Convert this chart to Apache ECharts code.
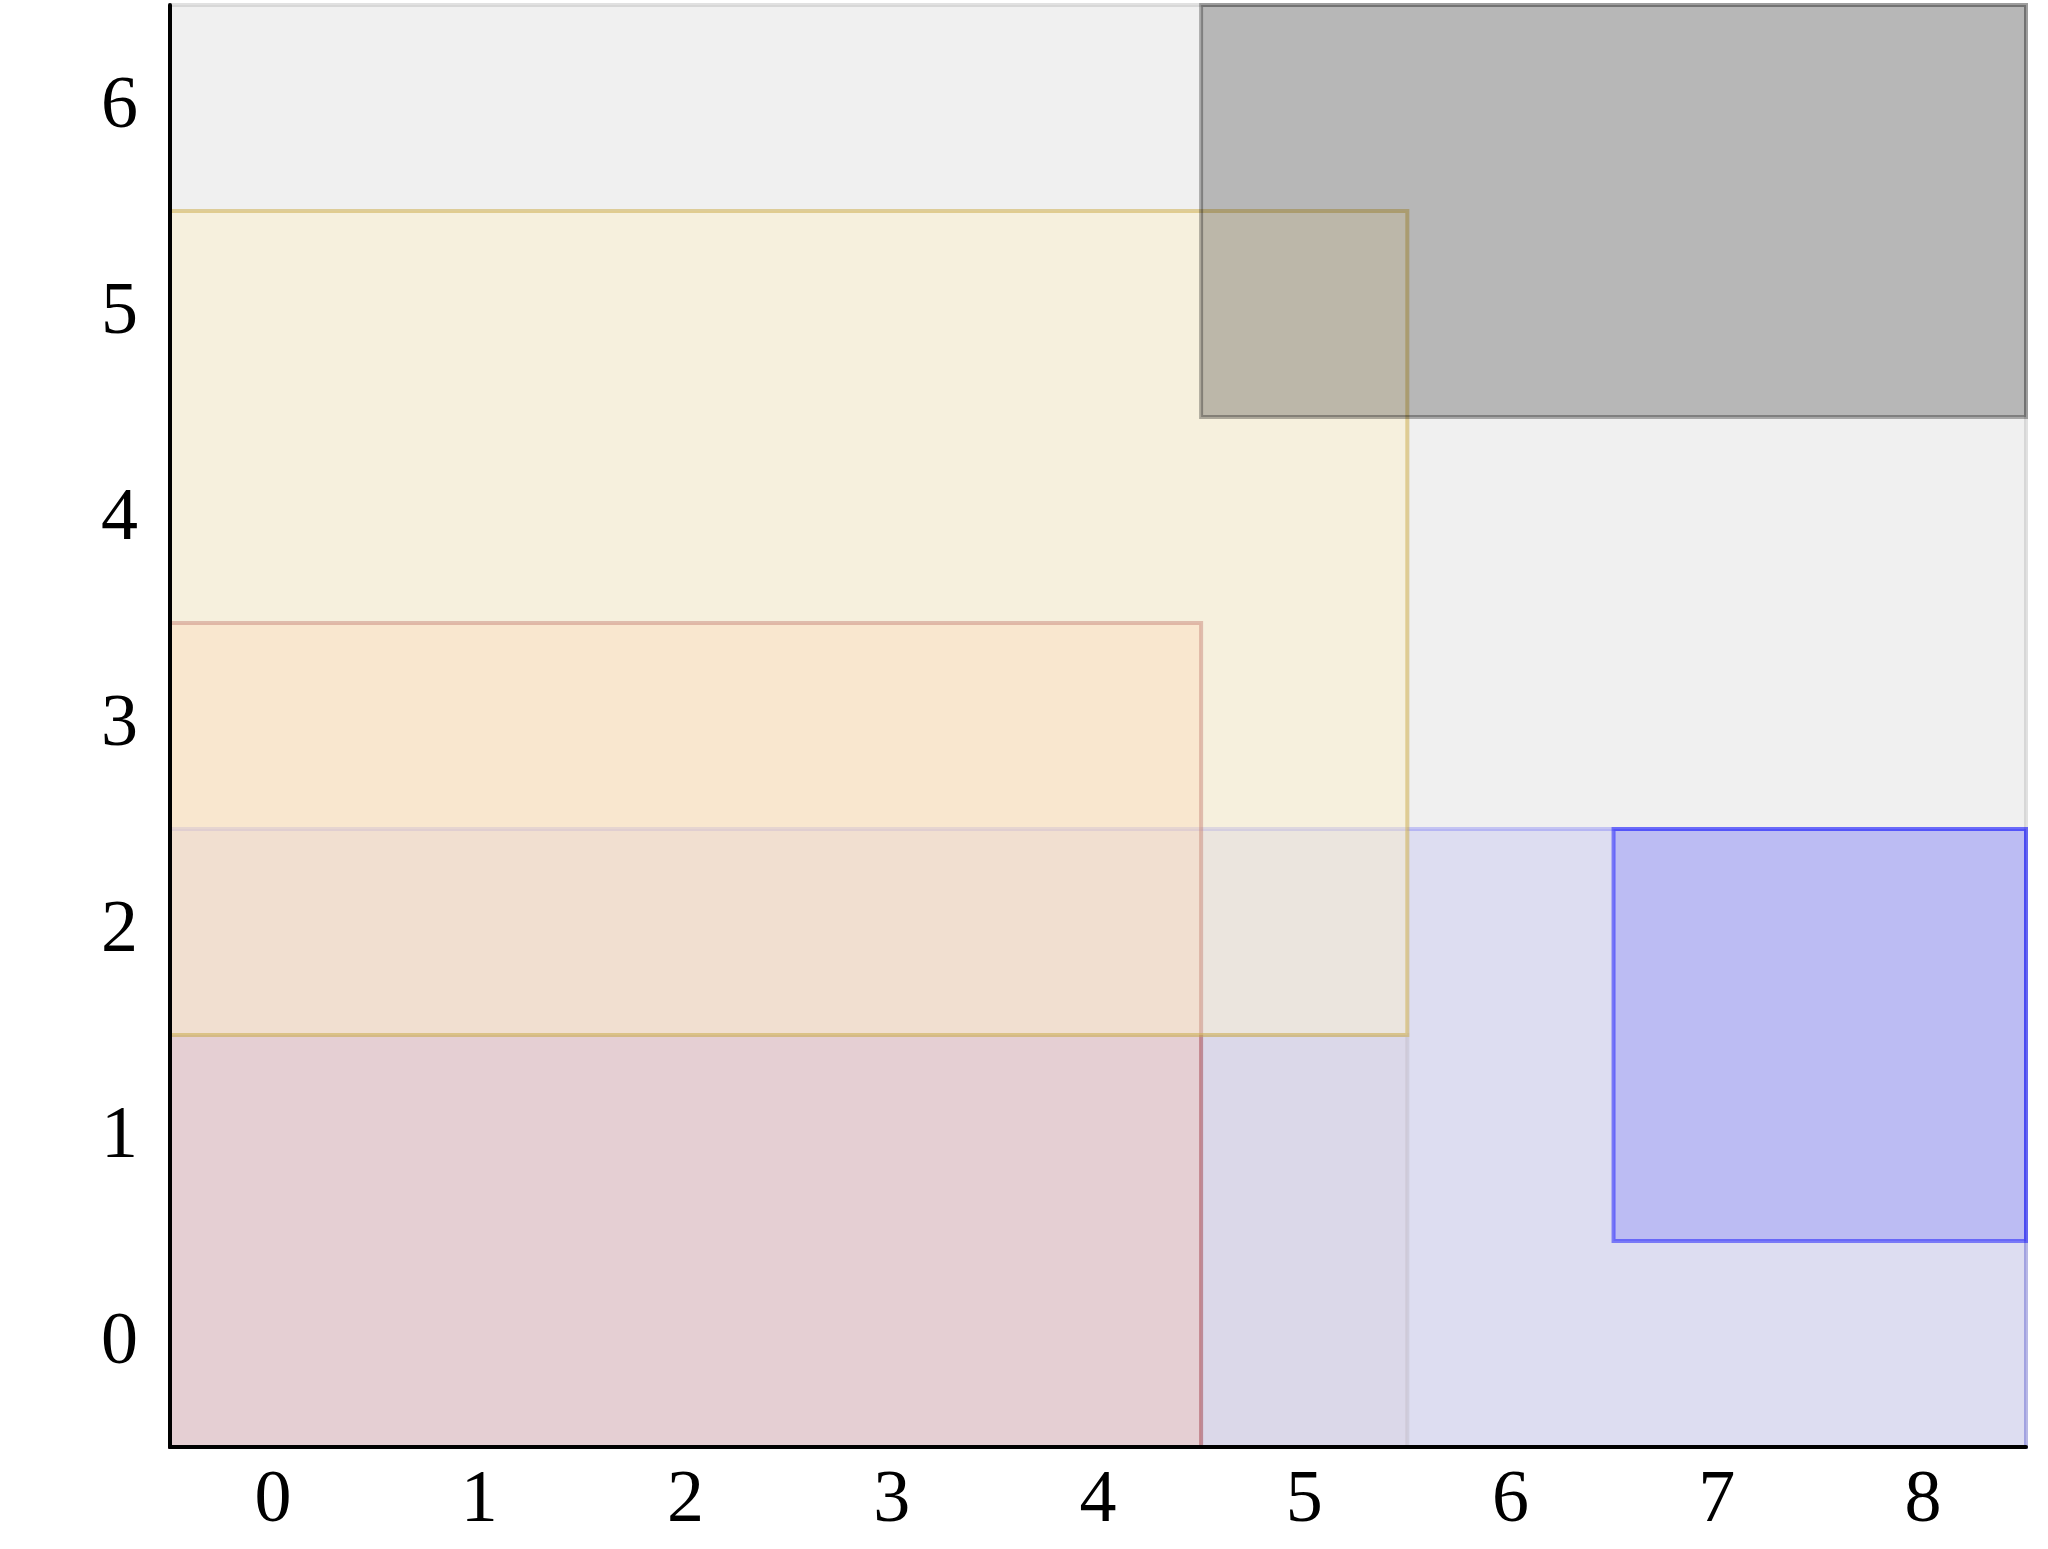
<!DOCTYPE html>
<html>
<head>
<meta charset="utf-8">
<script src="https://cdn.jsdelivr.net/npm/echarts@6/dist/echarts.min.js"></script>
<style>
html,body{margin:0;padding:0;background:#fff;}
#chart{width:2048px;height:1549px;}
</style>
</head>
<body>
<div id="chart"></div>
<script>
// Category ticks
const xCategories = ['0','1','2','3','4','5','6','7','8'];
const yCategories = ['0','1','2','3','4','5','6'];

// Rectangles (inclusive category index ranges), in drawing order
const rectNames  = ['background','blueWide','faint','red','yellow','grey','blueSmall'];
const rectXStart = [0, 0, 0, 0, 0, 5, 7];
const rectXEnd   = [8, 8, 5, 4, 5, 8, 8];
const rectYStart = [0, 0, 0, 0, 2, 5, 1];
const rectYEnd   = [6, 2, 1, 3, 5, 6, 2];

// Styles per rectangle (fill, stroke)
const rectFill = [
  '#f0f0f0',
  'rgba(0,0,255,0.08)',
  'rgba(200,170,140,0.08)',
  'rgba(255,185,160,0.29)',
  'rgba(255,240,195,0.42)',
  'rgba(0,0,0,0.235)',
  'rgba(0,0,255,0.15)'
];
const rectStroke = [
  'rgba(170,170,170,0.35)',
  'rgba(0,0,255,0.18)',
  'rgba(150,140,140,0.18)',
  'rgba(160,60,70,0.5)',
  'rgba(205,175,80,0.55)',
  'rgba(0,0,0,0.3)',
  'rgba(0,0,255,0.45)'
];

const data = rectNames.map((n, i) => [rectXStart[i], rectXEnd[i], rectYStart[i], rectYEnd[i], i]);

const chart = echarts.init(document.getElementById('chart'), null, {renderer: 'canvas'});
const labelFont = {
  fontFamily: '"Liberation Serif", "DejaVu Serif", serif',
  fontSize: 74,
  color: '#000'
};
chart.setOption({
  animation: false,
  backgroundColor: '#fff',
  grid: {left: 170, right: 22, top: 5, bottom: 102, containLabel: false},
  xAxis: {
    type: 'category',
    data: xCategories,
    boundaryGap: true,
    axisLine: {show: true, onZero: false, lineStyle: {color: '#000', width: 4}},
    axisTick: {show: false},
    splitLine: {show: false},
    axisLabel: Object.assign({margin: 18}, labelFont),
    z: 10
  },
  yAxis: {
    type: 'category',
    data: yCategories,
    boundaryGap: true,
    axisLine: {show: true, onZero: false, lineStyle: {color: '#000', width: 4}},
    axisTick: {show: false},
    splitLine: {show: false},
    axisLabel: Object.assign({margin: 32}, labelFont),
    z: 10
  },
  series: [{
    type: 'custom',
    clip: false,
    data: data,
    encode: {x: [0, 1], y: [2, 3]},
    renderItem: function (params, api) {
      const x0 = api.value(0), x1 = api.value(1), y0 = api.value(2), y1 = api.value(3);
      const idx = api.value(4);
      const size = api.size([1, 1]);
      const pA = api.coord([x0, y0]);
      const pB = api.coord([x1, y1]);
      const left = Math.min(pA[0], pB[0]) - size[0] / 2;
      const right = Math.max(pA[0], pB[0]) + size[0] / 2;
      const top = Math.min(pA[1], pB[1]) - size[1] / 2;
      const bottom = Math.max(pA[1], pB[1]) + size[1] / 2;
      return {
        type: 'rect',
        shape: {x: left, y: top, width: right - left, height: bottom - top},
        style: {fill: rectFill[idx], stroke: rectStroke[idx], lineWidth: 4}
      };
    }
  }]
});
</script>
</body>
</html>
